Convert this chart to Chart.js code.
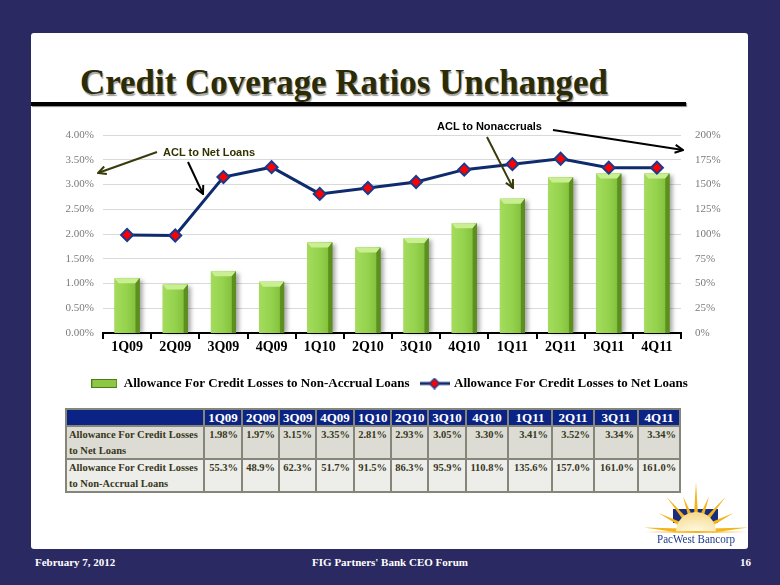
<!DOCTYPE html>
<html>
<head>
<meta charset="utf-8">
<script src="https://cdn.jsdelivr.net/npm/chart.js@4.4.0/dist/chart.umd.min.js"></script>
<style>
  body { margin:0; width:780px; height:585px; background:#2a2962; position:relative; overflow:hidden; font-family:"Liberation Serif", "Times New Roman", serif; }
  #slide { position:absolute; left:31px; top:33px; width:717px; height:516px; background:#fff; border-radius:3px; }
  #title { position:absolute; left:80px; top:62px; font-size:36px; font-weight:bold; color:#2b2b05; white-space:nowrap;
           transform:scaleX(0.97); transform-origin:left top; text-shadow:1px 2px 1px #a0a0a0; line-height:40px; }
  #rule { position:absolute; left:31px; top:102px; width:655px; height:4px; background:#000; box-shadow:1px 1px 1px #888; }
  #wrap { position:absolute; left:31px; top:118px; width:717px; height:282px; }
  table { position:absolute; left:65px; top:408px; border-collapse:collapse; table-layout:fixed; width:614px; }
  td, th { border:2px solid #85857a; font-weight:bold; padding:0 3px; }
  th { background:#0b2385; color:#fff; font-size:13px; height:15px; text-align:center; line-height:15px; }
  td { font-size:10.5px; color:#38381a; vertical-align:top; line-height:15.5px; height:31px; text-align:right; }
  td.lab { text-align:left; padding-left:2px; }
  tr.r1 td { background:#dcdcd5; }
  tr.r2 td { background:#ededea; }
  .foot { position:absolute; top:556px; color:#fff; font-weight:bold; font-size:11px; }
  svg { position:absolute; left:0; top:0; }
</style>
</head>
<body>
<div id="slide"></div>
<div id="title">Credit Coverage Ratios Unchanged</div>
<div id="rule"></div>
<div id="wrap"><canvas id="myChart" width="717" height="282"></canvas></div>
<table id="tbl"></table>
<div class="foot" style="left:35px">February 7, 2012</div>
<div class="foot" style="left:0;width:780px;text-align:center;">FIG Partners' Bank CEO Forum</div>
<div class="foot" style="left:740px">16</div>

<svg width="780" height="585">
  <defs>
    <marker id="hb" markerWidth="10" markerHeight="10" refX="9" refY="5" orient="auto" markerUnits="userSpaceOnUse">
      <path d="M1,1 L9,5 L1,9" fill="none" stroke="#000" stroke-width="2"/>
    </marker>
    <marker id="ho" markerWidth="10" markerHeight="10" refX="9" refY="5" orient="auto" markerUnits="userSpaceOnUse">
      <path d="M1,1 L9,5 L1,9" fill="none" stroke="#3a3a0c" stroke-width="2"/>
    </marker>
    <radialGradient id="glow" cx="50%" cy="100%" r="100%">
      <stop offset="0" stop-color="#fffbe8"/>
      <stop offset="1" stop-color="#f6d98a"/>
    </radialGradient>
    <linearGradient id="base" x1="0" x2="1" y1="0" y2="0">
      <stop offset="0" stop-color="#f4b41c" stop-opacity="0"/>
      <stop offset="0.5" stop-color="#f4b41c"/>
      <stop offset="1" stop-color="#f4b41c" stop-opacity="0"/>
    </linearGradient>
  </defs>
  <!-- annotations -->
  <text x="163" y="156" font-family="Liberation Sans, Arial" font-size="11" font-weight="bold" fill="#333300">ACL to Net Loans</text>
  <line x1="157" y1="152" x2="98" y2="173" stroke="#3a3a0c" stroke-width="2" marker-end="url(#ho)"/>
  <line x1="188" y1="162" x2="203" y2="194" stroke="#000" stroke-width="2" marker-end="url(#hb)"/>
  <text x="437" y="130" font-family="Liberation Sans, Arial" font-size="11" font-weight="bold" fill="#000">ACL to Nonaccruals</text>
  <line x1="553" y1="130" x2="683" y2="150" stroke="#000" stroke-width="2" marker-end="url(#hb)"/>
  <line x1="487" y1="137" x2="513" y2="188" stroke="#3a3a0c" stroke-width="2" marker-end="url(#ho)"/>
  <!-- logo -->
  <g id="logo">
    <rect x="673" y="509" width="45" height="14" fill="#1a2d7c"/>
  </g>
  <text x="696" y="543" text-anchor="middle" font-family="Liberation Serif" font-size="13" fill="#1f3b8f" textLength="78" lengthAdjust="spacingAndGlyphs">PacWest Bancorp</text>
</svg>

<script>
// quarters shown on the x axis and in the table header
var quarters = ['1Q09','2Q09','3Q09','4Q09','1Q10','2Q10','3Q10','4Q10','1Q11','2Q11','3Q11','4Q11']

// ACL to net loans (%), left axis
var netLoans = [1.98, 1.97, 3.15, 3.35, 2.81, 2.93, 3.05, 3.30, 3.41, 3.52, 3.34, 3.34]

// ACL to non-accrual loans (%), right axis
var nonAccrual = [55.3, 48.9, 62.3, 51.7, 91.5, 86.3, 95.9, 110.8, 135.6, 157.0, 161.0, 161.0]

var barLabel = 'Allowance For Credit Losses to Non-Accrual Loans'
var lineLabel = 'Allowance For Credit Losses to Net Loans'

//build the table under the chart
function buildTable() {
  var colW = [138,38,37,37,38,37,37,38,42,44,42,44,42]
  var html = '<colgroup>' + colW.map(function(w){ return '<col style="width:' + w + 'px">' }).join('') + '</colgroup>'
  html += '<tr><th></th>' + quarters.map(function(q){ return '<th>' + q + '</th>' }).join('') + '</tr>'
  html += '<tr class="r1"><td class="lab">Allowance For Credit Losses<br>to Net Loans</td>' +
    netLoans.map(function(v){ return '<td>' + v.toFixed(2) + '%</td>' }).join('') + '</tr>'
  html += '<tr class="r2"><td class="lab">Allowance For Credit Losses<br>to Non-Accrual Loans</td>' +
    nonAccrual.map(function(v){ return '<td>' + v.toFixed(1) + '%</td>' }).join('') + '</tr>'
  document.getElementById('tbl').innerHTML = html
}

//sunburst for the logo
function buildLogo() {
  var g = document.getElementById('logo')
  var cx = 696, cy = 532
  var rays = [[5,52],[27,42],[50,46],[70,38],[90,50],[110,38],[130,46],[153,42],[175,52]]
  var svgNS = 'http://www.w3.org/2000/svg'
  rays.forEach(function(r){
    var a = r[0]*Math.PI/180, len = r[1], hw = 0.13
    var p = [cx + Math.cos(a+hw)*16, cy - Math.sin(a+hw)*16,
             cx + Math.cos(a)*len, cy - Math.sin(a)*len,
             cx + Math.cos(a-hw)*16, cy - Math.sin(a-hw)*16]
    var poly = document.createElementNS(svgNS, 'polygon')
    poly.setAttribute('points', p.join(','))
    poly.setAttribute('fill', '#f4b41c')
    g.appendChild(poly)
  })
  var c = document.createElementNS(svgNS, 'path')
  c.setAttribute('d', 'M' + (cx-20) + ',' + cy + ' A20,20 0 0 1 ' + (cx+20) + ',' + cy + ' Z')
  c.setAttribute('fill', 'url(#glow)')
  g.appendChild(c)
  var b = document.createElementNS(svgNS, 'rect')
  b.setAttribute('x', cx - 52); b.setAttribute('y', cy - 1); b.setAttribute('width', 104); b.setAttribute('height', 2)
  b.setAttribute('fill', 'url(#base)')
  g.appendChild(b)
}

//legend icons
function barIcon() {
  var c = document.createElement('canvas'); c.width = 26; c.height = 9
  var x = c.getContext('2d')
  x.fillStyle = '#8cc843'; x.fillRect(0,0,26,9)
  x.strokeStyle = '#4f7a1c'; x.lineWidth = 1; x.strokeRect(0.5,0.5,25,8)
  return c
}
function lineIcon() {
  var c = document.createElement('canvas'); c.width = 30; c.height = 12
  var x = c.getContext('2d')
  x.strokeStyle = '#0f2b6e'; x.lineWidth = 3
  x.beginPath(); x.moveTo(0,6); x.lineTo(30,6); x.stroke()
  x.beginPath(); x.moveTo(15,1); x.lineTo(20,6); x.lineTo(15,11); x.lineTo(10,6); x.closePath()
  x.fillStyle = '#ff0000'; x.fill(); x.strokeStyle = '#1d3a8a'; x.lineWidth = 1.5; x.stroke()
  return c
}

//3d look for the bars, uses the bar positions from chart.js
var bevelPlugin = {
  id: 'bevel',
  beforeDatasetDraw: function(chart, args) {
    if (args.meta.type !== 'bar') return
    var ctx = chart.ctx
    ctx.save()
    args.meta.data.forEach(function(b){
      ctx.fillStyle = 'rgba(0,0,0,0.35)'
      ctx.filter = 'blur(2px)'
      ctx.fillRect(b.x - b.width/2 + 3, b.y + 2, b.width, b.base - b.y - 2)
    })
    ctx.restore()
  },
  afterDatasetDraw: function(chart, args) {
    if (args.meta.type !== 'bar') return
    var ctx = chart.ctx
    ctx.save()
    args.meta.data.forEach(function(b){
      var l = b.x - b.width/2, r = b.x + b.width/2, t = b.y, bt = b.base
      var g = ctx.createLinearGradient(l, 0, r, 0)
      g.addColorStop(0, '#a4dc5c'); g.addColorStop(0.5, '#94d24d'); g.addColorStop(0.8, '#86c43f'); g.addColorStop(1, '#4f7e18')
      ctx.fillStyle = g
      ctx.fillRect(l, t, r - l, bt - t)
      ctx.fillStyle = '#c9ef92'
      ctx.beginPath(); ctx.moveTo(l, t); ctx.lineTo(r, t); ctx.lineTo(r - 4, t + 5); ctx.lineTo(l + 4, t + 5); ctx.closePath(); ctx.fill()
      ctx.fillStyle = '#5d8f1f'
      ctx.beginPath(); ctx.moveTo(r, t); ctx.lineTo(r, bt); ctx.lineTo(r - 4, bt); ctx.lineTo(r - 4, t + 5); ctx.closePath(); ctx.fill()
    })
    ctx.restore()
  }
}

function updateChart() {
  var ctx = document.getElementById('myChart').getContext('2d')
  var tickFont = { family: 'Liberation Serif', size: 11 }
  var chart = new Chart(ctx, {
    type: 'bar',
    data: {
      labels: quarters,
      datasets: [{
        type: 'bar',
        label: barLabel,
        data: nonAccrual,
        yAxisID: 'y1',
        backgroundColor: '#8cc843',
        categoryPercentage: 1,
        barPercentage: 0.52,
        order: 1
      }, {
        type: 'line',
        label: lineLabel,
        data: netLoans,
        yAxisID: 'y',
        borderColor: '#0f2b6e',
        borderWidth: 3,
        pointStyle: 'rectRot',
        pointRadius: 6,
        pointBackgroundColor: '#ff0000',
        pointBorderColor: '#1d3a8a',
        pointBorderWidth: 2,
        tension: 0,
        order: 0
      }]
    },
    options: {
      responsive: false,
      animation: false,
      layout: { padding: { top: 17, left: 0, right: 0, bottom: 0 } },
      plugins: {
        tooltip: { enabled: false },
        legend: {
          position: 'bottom',
          labels: {
            usePointStyle: true,
            pointStyleWidth: 26,
            padding: 12,
            color: '#000',
            font: { family: 'Liberation Serif', size: 13, weight: 'bold' },
            generateLabels: function(ch) {
              var items = Chart.defaults.plugins.legend.labels.generateLabels(ch)
              items.sort(function(a, b){ return a.datasetIndex - b.datasetIndex })
              items[0].pointStyle = barIcon()
              items[1].pointStyle = lineIcon()
              return items
            }
          }
        }
      },
      scales: {
        x: {
          grid: { display: true, drawOnChartArea: false, color: '#000', lineWidth: 2, tickLength: 6, offset: true },
          border: { color: '#000', width: 2 },
          ticks: { color: '#000', font: { family: 'Liberation Serif', size: 14, weight: 'bold' }, padding: 0, maxRotation: 0 },
          afterFit: function(s) { s.height = 32 }
        },
        y: {
          position: 'left', min: 0, max: 4,
          ticks: { stepSize: 0.5, color: '#7a7a7a', font: tickFont, padding: 9, callback: function(v){ return v.toFixed(2) + '%' } },
          grid: { color: '#d9d9d9', drawTicks: false },
          border: { display: false },
          afterFit: function(s) { s.width = 72 }
        },
        y1: {
          position: 'right', min: 0, max: 200,
          ticks: { stepSize: 25, color: '#7a7a7a', font: tickFont, padding: 6, callback: function(v){ return v + '%' } },
          grid: { display: false },
          border: { display: false },
          afterFit: function(s) { s.width = 67 }
        }
      }
    },
    plugins: [bevelPlugin]
  })
}

buildTable()
buildLogo()
updateChart()
</script>
</body>
</html>
